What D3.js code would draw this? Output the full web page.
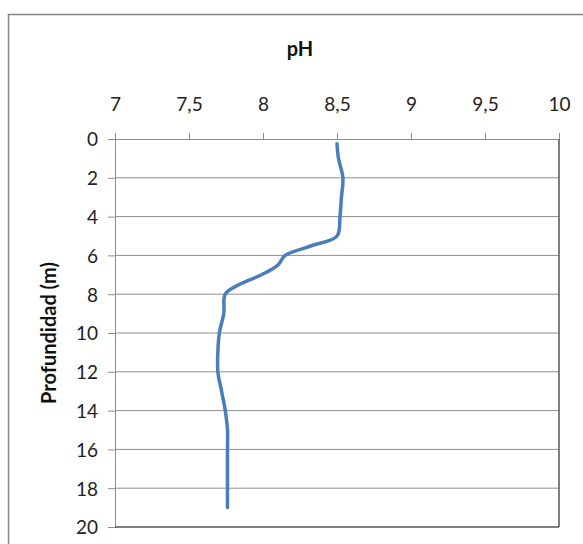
<!DOCTYPE html>
<html>
<head>
<meta charset="utf-8">
<script src="https://cdn.jsdelivr.net/npm/d3@7"></script>
<style>
  body { margin: 0; background: #fff; }
  svg { display: block; }
</style>
</head>
<body>
<div id="chart"></div>
<script>
// profundidad (m) y pH medidos
const depths = [0.25, 1, 2, 3, 4, 5, 5.5, 6, 6.5, 7, 7.5, 8, 9, 10, 11, 12, 13, 14, 15, 16, 17, 18, 19];
const phValues = [8.50, 8.51, 8.54, 8.53, 8.52, 8.50, 8.33, 8.15, 8.10, 7.99, 7.84, 7.745, 7.735, 7.705, 7.695, 7.695, 7.72, 7.745, 7.76, 7.76, 7.76, 7.76, 7.76];
const xTicks = [7, 7.5, 8, 8.5, 9, 9.5, 10];
const yTicks = [0, 2, 4, 6, 8, 10, 12, 14, 16, 18, 20];

const width = 583;
const height = 544;
const margin = { top: 139, right: 24, bottom: 17, left: 115 };
const innerW = width - margin.left - margin.right;
const innerH = height - margin.top - margin.bottom;

const data = depths.map((d, i) => ({ depth: d, ph: phValues[i] }));

const svg = d3
  .select("#chart")
  .append("svg")
  .attr("width", width)
  .attr("height", height);

// marco del gráfico
svg
  .append("rect")
  .attr("x", 8.5)
  .attr("y", 14.5)
  .attr("width", 600)
  .attr("height", 560)
  .attr("fill", "#fff")
  .attr("stroke", "#868686")
  .attr("stroke-width", 1.5);

const x = d3.scaleLinear().domain([7, 10]).range([0, innerW]);
const y = d3.scaleLinear().domain([0, 20]).range([0, innerH]);

const g = svg
  .append("g")
  .attr("transform", `translate(${margin.left}, ${margin.top})`);

// líneas de cuadrícula horizontales
g.append("g")
  .selectAll("line")
  .data(yTicks.slice(1, -1))
  .enter()
  .append("line")
  .attr("x1", 0)
  .attr("x2", innerW)
  .attr("y1", (d) => y(d))
  .attr("y2", (d) => y(d))
  .attr("stroke", "#8e8e8e")
  .attr("stroke-width", 1);

// eje x arriba
const xAxis = g
  .append("g")
  .call(
    d3
      .axisTop(x)
      .tickValues(xTicks)
      .tickSize(6)
      .tickPadding(22)
      .tickFormat((d) => String(d).replace(".", ","))
  );

// eje y a la izquierda
const yAxis = g
  .append("g")
  .call(d3.axisLeft(y).tickValues(yTicks).tickSize(7).tickPadding(10));

[xAxis, yAxis].forEach((ax) => {
  ax.select(".domain").attr("stroke", "#8e8e8e").attr("stroke-width", 1);
  ax.selectAll(".tick line").attr("stroke", "#8e8e8e");
  ax.selectAll("text")
    .attr("fill", "#222")
    .attr("font-family", "Lato, sans-serif")
    .attr("font-size", "19px");
});
yAxis.selectAll("text").attr("dy", "0.36em");

// bordes derecho e inferior del área de trazado
g.append("line")
  .attr("x1", innerW)
  .attr("x2", innerW)
  .attr("y1", 0)
  .attr("y2", innerH)
  .attr("stroke", "#555")
  .attr("stroke-width", 1.5);

g.append("line")
  .attr("x1", 0)
  .attr("x2", innerW)
  .attr("y1", innerH)
  .attr("y2", innerH)
  .attr("stroke", "#555")
  .attr("stroke-width", 1.5);

// curva de pH
const line = d3
  .line()
  .x((d) => x(d.ph))
  .y((d) => y(d.depth))
  .curve(d3.curveCatmullRom.alpha(0.5));

g.append("path")
  .datum(data)
  .attr("d", line)
  .attr("fill", "none")
  .attr("stroke", "#4a7ebb")
  .attr("stroke-width", 3.5)
  .attr("stroke-linecap", "round")
  .attr("stroke-linejoin", "round");

// títulos
svg
  .append("text")
  .text("pH")
  .attr("x", 300)
  .attr("y", 56)
  .attr("text-anchor", "middle")
  .attr("font-family", "Lato, sans-serif")
  .attr("font-weight", "bold")
  .attr("font-size", "20px")
  .attr("fill", "#111");

svg
  .append("text")
  .text("Profundidad (m)")
  .attr("transform", "translate(56, 333) rotate(-90)")
  .attr("text-anchor", "middle")
  .attr("font-family", "Lato, sans-serif")
  .attr("font-weight", "bold")
  .attr("font-size", "20px")
  .attr("fill", "#111");
</script>
</body>
</html>
